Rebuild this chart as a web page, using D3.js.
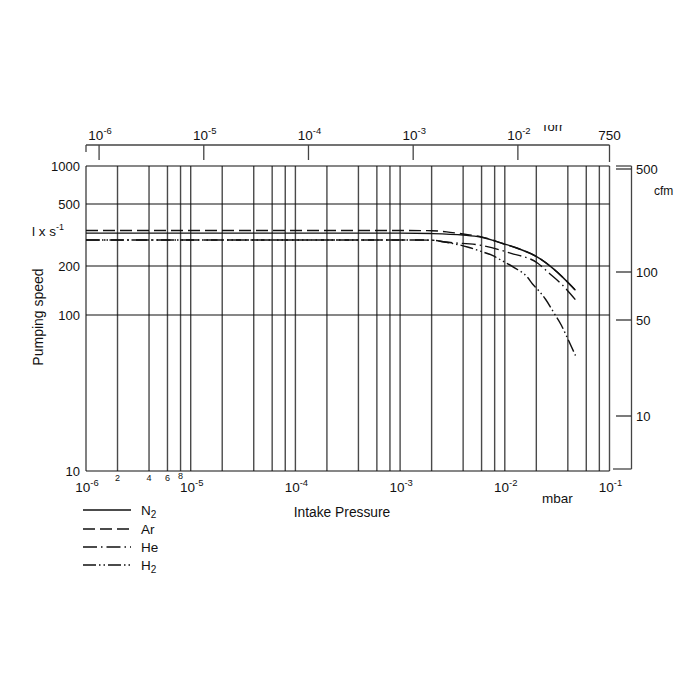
<!DOCTYPE html>
<html><head><meta charset="utf-8">
<script src="https://cdn.jsdelivr.net/npm/d3@7"></script>
<style>body{margin:0;background:#fff}text{font-family:"Liberation Sans",Arial,sans-serif;fill:#111}</style></head>
<body><svg id="c" width="700" height="700"></svg>
<script>
// ---- data ----
const seriesNames = ["N2", "Ar", "He", "H2"];
const pressureN2 = [1e-6, 1e-3, 2e-3, 4e-3, 5.85e-3, 9.7e-3, 1.32e-2, 2.05e-2, 2.92e-2, 4.73e-2];
const speedN2    = [325, 325, 323, 316, 307, 278, 260, 228, 192, 142];
const pressureAr = [1e-6, 1e-3, 2e-3, 3e-3, 4e-3, 5.85e-3, 9.7e-3, 1.32e-2, 2.05e-2, 2.92e-2, 4.73e-2];
const speedAr    = [338, 338, 337, 329, 321, 309, 278, 260, 228, 192, 142];
const pressureHe = [1e-6, 1e-3, 2e-3, 2.7e-3, 6e-3, 1.13e-2, 2.05e-2, 2.67e-2, 3.47e-2, 4.73e-2];
const speedHe    = [294, 294, 293, 285, 271, 242, 209, 180, 155, 124];
const pressureH2 = [1e-6, 1e-3, 2e-3, 3e-3, 4.4e-3, 5.85e-3, 7.8e-3, 9.1e-3, 1.24e-2, 1.64e-2, 1.84e-2, 2.05e-2, 2.45e-2, 2.92e-2, 3.47e-2, 3.97e-2, 4.73e-2];
const speedH2    = [294, 294, 293, 281, 265, 249, 232, 219, 195, 171, 155, 144, 125, 104, 86, 71, 55];

const speedTicks = [1000, 500, 200, 100, 10];
const speedGrid = [500, 200, 100];
const cfmTicks = [500, 100, 50, 10];
const mbarDecades = [-6, -5, -4, -3, -2, -1];
const torrDecades = [-6, -5, -4, -3, -2];
const torrEndLabel = "750";
const minorMultipliers = [2, 4, 6, 8];
const TORR_TO_MBAR = 1 / 0.75;

// ---- layout ----
const L = 86, R = 609.5, T = 166, B = 471;
const svg = d3.select("#c");

const x = d3.scaleLog().domain([1e-6, 1e-1]).range([L, R]);
const y = d3.scaleLog().domain([10, 100, 200, 500, 1000]).range([B, 315, 266, 204, T]);
const yc = d3.scaleLog().domain([10, 50, 100, 500]).range([416, 320, 272, 169]);

// grid: vertical
const vGrid = [];
mbarDecades.slice(0, -1).forEach(e => {
  vGrid.push(Math.pow(10, e));
  minorMultipliers.forEach(m => vGrid.push(m * Math.pow(10, e)));
});
vGrid.push(1e-1);
svg.append("g").selectAll("line").data(vGrid).join("line")
  .attr("x1", d => x(d)).attr("x2", d => x(d)).attr("y1", T).attr("y2", B)
  .attr("stroke", "#4a4a4a").attr("stroke-width", 1.4);
// grid: horizontal
svg.append("g").selectAll("line").data([...speedGrid, 1000, 10]).join("line")
  .attr("x1", L).attr("x2", R).attr("y1", d => y(d)).attr("y2", d => y(d))
  .attr("stroke", "#111").attr("stroke-width", 1.1);

// power-of-ten label helper
function pow10Label(g, px, py, exp, size) {
  const t = g.append("text").attr("x", px).attr("y", py).attr("text-anchor", "middle")
    .style("font-size", size + "px");
  t.append("tspan").text("10");
  t.append("tspan").attr("dy", -size * 0.45).style("font-size", (size * 0.7) + "px").text(String(exp));
  return t;
}

// left axis labels
svg.append("g").selectAll("text").data(speedTicks).join("text")
  .attr("x", 80).attr("y", d => y(d)).attr("dy", "0.36em").attr("text-anchor", "end")
  .style("font-size", "13px").text(d => d);

// bottom labels
const gb = svg.append("g");
mbarDecades.forEach(e => pow10Label(gb, x(Math.pow(10, e)) + 1, 492, e, 13.5));
gb.selectAll("text.minor").data(minorMultipliers).join("text").attr("class", "minor")
  .attr("x", d => x(d * 1e-6)).attr("y", (d, i) => i === 3 ? 479 : 481).attr("text-anchor", "middle")
  .style("font-size", "9px").text(d => d);

// top Torr axis
const gt = svg.append("g");
const topY = 145;
gt.append("line").attr("x1", L).attr("x2", R).attr("y1", topY).attr("y2", topY).attr("stroke", "#444").attr("stroke-width", 1.3);
gt.append("line").attr("x1", L).attr("x2", L).attr("y1", topY).attr("y2", 152).attr("stroke", "#444").attr("stroke-width", 1.3);
gt.append("line").attr("x1", R).attr("x2", R).attr("y1", topY).attr("y2", 162).attr("stroke", "#444").attr("stroke-width", 1.3);
torrDecades.forEach(e => {
  const px = x(Math.pow(10, e) * TORR_TO_MBAR);
  gt.append("line").attr("x1", px).attr("x2", px).attr("y1", topY).attr("y2", 160).attr("stroke", "#444").attr("stroke-width", 1.3);
  pow10Label(gt, px + 1, 140, e, 13.5);
});
gt.append("text").attr("x", R).attr("y", 140).attr("text-anchor", "middle").style("font-size", "13.5px").text(torrEndLabel);
const defs = svg.append("defs");
defs.append("clipPath").attr("id", "torrClip").attr("clipPathUnits", "userSpaceOnUse")
  .append("rect").attr("x", 530).attr("y", 125).attr("width", 50).attr("height", 20);
svg.append("g").attr("clip-path", "url(#torrClip)")
  .append("text").attr("x", 541).attr("y", 131).style("font-size", "13px").text("Torr");

// right cfm axis
const gr = svg.append("g");
const rx = 631.5;
gr.append("line").attr("x1", rx).attr("x2", rx).attr("y1", T).attr("y2", 469).attr("stroke", "#444").attr("stroke-width", 1.3);
gr.append("line").attr("x1", 616).attr("x2", rx).attr("y1", T).attr("y2", T).attr("stroke", "#444").attr("stroke-width", 1.3);
gr.append("line").attr("x1", 613).attr("x2", rx).attr("y1", 469).attr("y2", 469).attr("stroke", "#444").attr("stroke-width", 1.3);
gr.selectAll("line.t").data(cfmTicks).join("line").attr("class", "t")
  .attr("x1", 616).attr("x2", rx).attr("y1", d => yc(d)).attr("y2", d => yc(d)).attr("stroke", "#333").attr("stroke-width", 1.3);
gr.selectAll("text").data(cfmTicks).join("text")
  .attr("x", 636).attr("y", d => yc(d)).attr("dy", "0.36em").style("font-size", "13px").text(d => d);
svg.append("text").attr("x", 654).attr("y", 195).style("font-size", "12px").text("cfm");

// axis titles
const ut = svg.append("text").attr("x", 32).attr("y", 236).style("font-size", "13.5px");
ut.append("tspan").text("l x s");
ut.append("tspan").attr("dy", -6).style("font-size", "9px").text("-1");
svg.append("text").attr("transform", "translate(43,317) rotate(-90)").attr("text-anchor", "middle")
  .style("font-size", "14px").text("Pumping speed");
svg.append("text").attr("x", 342).attr("y", 517).attr("text-anchor", "middle").style("font-size", "13.8px").text("Intake Pressure");
svg.append("text").attr("x", 542).attr("y", 503).style("font-size", "13.5px").text("mbar");

// curves
const dashes = {N2: null, Ar: "12,5", He: "14,4,1.5,4", H2: "13,3,1.5,3,1.5,3"};
const series = [
  {name: "N2", p: pressureN2, s: speedN2},
  {name: "Ar", p: pressureAr, s: speedAr},
  {name: "He", p: pressureHe, s: speedHe},
  {name: "H2", p: pressureH2, s: speedH2}
];
const line = d3.line().x(d => x(d[0])).y(d => y(d[1])).curve(d3.curveMonotoneX);
svg.append("g").selectAll("path").data(series).join("path")
  .attr("d", d => line(d.p.map((p, i) => [p, d.s[i]])))
  .attr("fill", "none").attr("stroke", "#111").attr("stroke-width", 1.4)
  .attr("stroke-dasharray", d => dashes[d.name]);

// legend
const lg = svg.append("g");
const legY = [510, 529, 547, 565];
seriesNames.forEach((n, i) => {
  lg.append("line").attr("x1", 83).attr("x2", 131).attr("y1", legY[i]).attr("y2", legY[i])
    .attr("stroke", "#111").attr("stroke-width", 1.4).attr("stroke-dasharray", dashes[n]);
  const t = lg.append("text").attr("x", 141).attr("y", legY[i] + 5).style("font-size", "13.5px");
  if (n.endsWith("2")) {
    t.append("tspan").text(n.slice(0, -1));
    t.append("tspan").attr("dy", 3).style("font-size", "10px").text("2");
  } else t.text(n);
});
</script></body></html>
